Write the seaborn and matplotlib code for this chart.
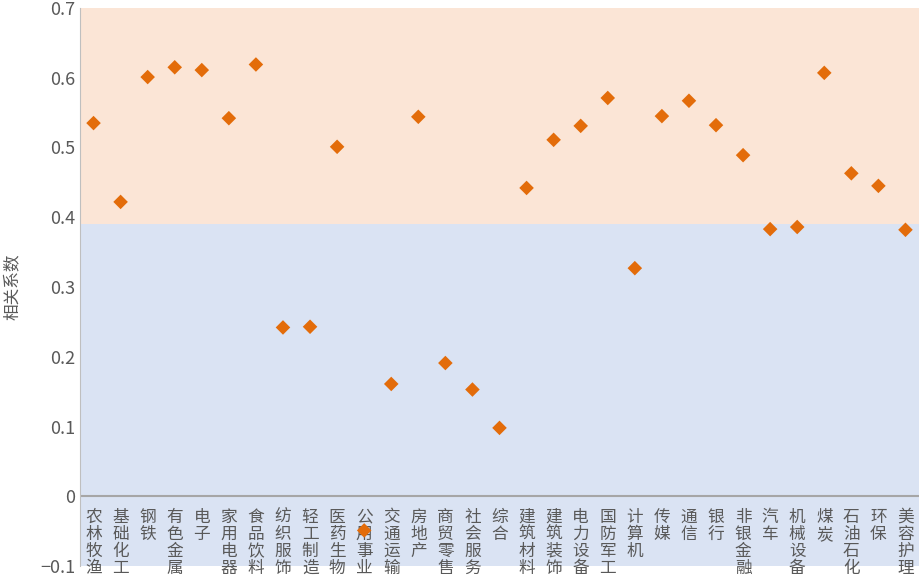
import matplotlib
matplotlib.use("Agg")
import matplotlib.pyplot as plt
import seaborn as sns
import pandas as pd

categories = ["农林牧渔","基础化工","钢铁","有色金属","电子","家用电器","食品饮料","纺织服饰","轻工制造","医药生物",
              "公用事业","交通运输","房地产","商贸零售","社会服务","综合","建筑材料","建筑装饰","电力设备","国防军工",
              "计算机","传媒","通信","银行","非银金融","汽车","机械设备","煤炭","石油石化","环保","美容护理"]
values = [0.535,0.422,0.601,0.615,0.611,0.542,0.619,0.242,0.243,0.501,
          -0.049,0.161,0.544,0.191,0.153,0.098,0.442,0.511,0.531,0.571,
          0.327,0.545,0.567,0.532,0.489,0.383,0.386,0.607,0.463,0.445,0.382]
threshold = 0.39

sns.set_style("white")
plt.rcParams['font.family'] = ['Noto Sans CJK SC', 'DejaVu Sans']

df = pd.DataFrame({"x": range(len(categories)), "cat": categories, "v": values})
fig = plt.figure(figsize=(9.19, 5.83), dpi=100)
ax = fig.add_axes([80/919, 17/583, 839/919, 558/583])
n = len(categories)
ax.axhspan(threshold, 0.7, color="#fbe5d6", zorder=0, lw=0)
ax.axhspan(-0.1, threshold, color="#dae3f3", zorder=0, lw=0)
ax.axhline(0, color="#a6a6a6", lw=1.5, zorder=1)
sns.scatterplot(data=df, x="x", y="v", marker="D", color="#e36c0a", s=55, edgecolor="none", ax=ax, zorder=3)
for i, c in enumerate(categories):
    ax.text(i, -0.018, "\n".join(c), ha="center", va="top", fontsize=12, color="#595959",
            linespacing=1.0, zorder=2)
ax.set_xlim(-0.5, n - 0.5)
ax.set_ylim(-0.1, 0.7)
ax.set_yticks([-0.1,0,0.1,0.2,0.3,0.4,0.5,0.6,0.7])
ax.set_yticklabels(["\u22120.1","0","0.1","0.2","0.3","0.4","0.5","0.6","0.7"])
ax.tick_params(axis="y", labelsize=13, colors="#595959", length=0)
ax.set_xticks([])
ax.set_xlabel("")
ax.set_ylabel("相关系数", fontsize=12, color="#595959", labelpad=14)
for s in ["top", "right", "bottom"]:
    ax.spines[s].set_visible(False)
ax.spines["left"].set_color("#bfbfbf")
fig.savefig("out.png", dpi=100)
